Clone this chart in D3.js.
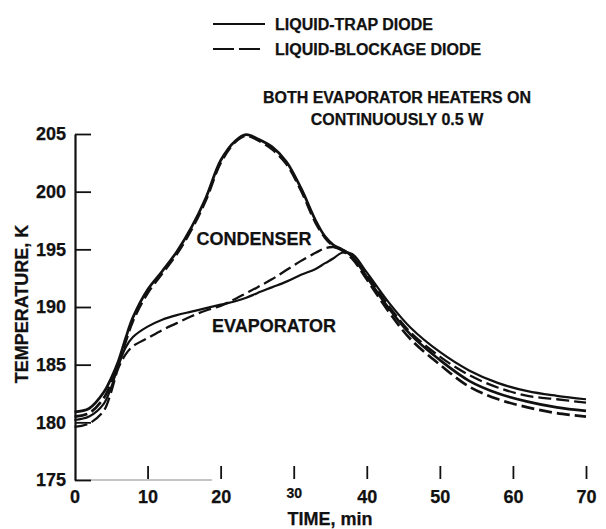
<!DOCTYPE html>
<html>
<head>
<meta charset="utf-8">
<script src="https://cdn.jsdelivr.net/npm/d3@7"></script>
<style>
  html, body { margin: 0; padding: 0; background: #fff; }
  svg { display: block; }
  text { font-family: "Liberation Sans", Arial, Helvetica, sans-serif; font-weight: bold; fill: #111; stroke: #111; stroke-width: 0.25px; }
</style>
</head>
<body>
<svg id="chart" width="606" height="529"></svg>
<script>
// Time samples (min) shared by all four temperature traces
const times = [0, 2, 4, 5, 6, 7, 8, 10, 12, 14, 16, 18, 20, 22, 23.5, 25, 27, 29, 31, 33, 34.3, 35.4, 36.6, 38, 40, 43, 46, 50, 54, 58, 62, 66, 70];

// Condenser temperature (K)
const condenserTrap     = [180.9, 181.2, 182.6, 183.8, 185.3, 187.3, 189.1, 191.5, 193.1, 194.8, 196.9, 199.5, 202.7, 204.4, 204.95, 204.6, 203.9, 202.6, 200.3, 197.5, 196.1, 195.4, 195.0, 194.4, 192.6, 189.9, 187.6, 185.4, 183.6, 182.5, 181.8, 181.3, 181.0];
const condenserBlockage = [180.5, 180.8, 182.1, 183.4, 185.1, 187.0, 188.8, 191.2, 192.9, 194.6, 196.7, 199.3, 202.5, 204.3, 204.85, 204.5, 203.7, 202.4, 200.1, 197.3, 196.0, 195.3, 194.9, 194.2, 192.4, 189.6, 187.2, 185.0, 183.1, 182.0, 181.3, 180.8, 180.5];

// Evaporator temperature (K)
const evaporatorTrap     = [180.2, 180.5, 181.6, 183.0, 184.9, 186.5, 187.4, 188.3, 188.9, 189.3, 189.6, 189.9, 190.2, 190.5, 190.8, 191.2, 191.7, 192.2, 192.8, 193.3, 193.8, 194.2, 194.7, 194.6, 193.0, 190.4, 188.2, 186.1, 184.5, 183.4, 182.7, 182.3, 182.0];
const evaporatorBlockage = [179.6, 179.9, 181.0, 182.6, 184.7, 185.9, 186.6, 187.3, 188.0, 188.6, 189.2, 189.7, 190.1, 190.7, 191.2, 191.7, 192.4, 193.2, 194.0, 194.7, 195.1, 195.2, 195.0, 194.4, 192.8, 190.1, 187.8, 185.7, 184.1, 183.0, 182.3, 182.0, 181.7];

// Axis ticks
const yTicks = [175, 180, 185, 190, 195, 200, 205];
const xTicks = [0, 10, 20, 30, 40, 50, 60, 70];

// Legend and annotation text
const legendLabels = ["LIQUID-TRAP DIODE", "LIQUID-BLOCKAGE DIODE"];
const titleLines = ["BOTH EVAPORATOR HEATERS ON", "CONTINUOUSLY 0.5 W"];

const svg = d3.select("#chart");
const ink = "#111";
const font = '"Liberation Sans", Arial, sans-serif';

const x = d3.scaleLinear().domain([0, 70]).range([74.5, 586]);
const y = d3.scaleLinear().domain([175, 205]).range([480, 134]);

// Partial baseline along the bottom
svg.append("line")
  .attr("x1", x(0)).attr("x2", x(18.8))
  .attr("y1", y(175)).attr("y2", y(175))
  .attr("stroke", "#8a8a8a").attr("stroke-width", 1.2);

// Temperature axis with inward ticks
const yAxis = svg.append("g")
  .attr("transform", `translate(${x(0) + 0.5},0)`)
  .call(d3.axisLeft(y).tickValues(yTicks).tickSizeInner(-16).tickSizeOuter(0).tickPadding(9).tickFormat(d3.format("d")));
yAxis.select(".domain").attr("stroke", ink).attr("stroke-width", 2.2);
yAxis.selectAll(".tick line").attr("stroke", ink).attr("stroke-width", 1.8);
yAxis.selectAll(".tick text").attr("font-size", 18).attr("fill", ink)
  .attr("font-family", font).attr("font-weight", "bold");

// Time axis: floating short ticks above the baseline
const xAxis = svg.append("g")
  .attr("transform", `translate(0,${y(175)})`)
  .call(d3.axisBottom(x).tickValues(xTicks).tickSizeInner(-14).tickSizeOuter(0).tickPadding(10.5).tickFormat(d3.format("d")));
xAxis.select(".domain").remove();
xAxis.selectAll(".tick line")
  .attr("stroke", ink).attr("stroke-width", 1.8)
  .attr("y2", -14).attr("y1", -1)
  .filter(d => d === 0).remove();
xAxis.selectAll(".tick text").attr("font-size", 18).attr("fill", ink)
  .attr("font-family", font).attr("font-weight", "bold");
xAxis.selectAll(".tick text").filter(d => d === 30)
  .attr("font-size", 14).attr("y", 8);

// Curves
const line = d3.line()
  .x((d, i) => x(times[i]))
  .y(d => y(d))
  .curve(d3.curveCatmullRom.alpha(0.5));

const traces = [
  { values: condenserTrap, dash: null, w: 2.7 },
  { values: evaporatorTrap, dash: null, w: 2.2 },
  { values: condenserBlockage, dash: "13,5", w: 2.7 },
  { values: evaporatorBlockage, dash: "13,5", w: 2.3 }
];
svg.append("g").selectAll("path")
  .data(traces)
  .join("path")
  .attr("d", d => line(d.values))
  .attr("fill", "none")
  .attr("stroke", ink)
  .attr("stroke-width", d => d.w)
  .attr("stroke-dasharray", d => d.dash);

// Curve labels
svg.append("text").attr("x", 254).attr("y", 244.5).attr("text-anchor", "middle")
  .attr("font-size", 18).text("CONDENSER");
svg.append("text").attr("x", 274).attr("y", 331.5).attr("text-anchor", "middle")
  .attr("font-size", 18).text("EVAPORATOR");

// Legend
const legend = svg.append("g");
[0, 1].forEach(i => {
  const ly = 24 + i * 25;
  legend.append("line")
    .attr("x1", 213).attr("x2", 265).attr("y1", ly).attr("y2", ly)
    .attr("stroke", ink).attr("stroke-width", 2)
    .attr("stroke-dasharray", i === 1 ? "21,5" : null);
  legend.append("text").attr("x", 275).attr("y", ly + 6)
    .attr("font-size", 16).text(legendLabels[i]);
});

// Test condition note
titleLines.forEach((t, i) => {
  svg.append("text").attr("x", 397).attr("y", 103 + i * 21.5)
    .attr("text-anchor", "middle").attr("font-size", 16).text(t);
});

// Axis titles
svg.append("text").attr("x", 330).attr("y", 525).attr("text-anchor", "middle")
  .attr("font-size", 18).text("TIME, min");
svg.append("text")
  .attr("transform", "translate(27.5,304) rotate(-90)")
  .attr("text-anchor", "middle").attr("font-size", 18).text("TEMPERATURE, K");
</script>
</body>
</html>
